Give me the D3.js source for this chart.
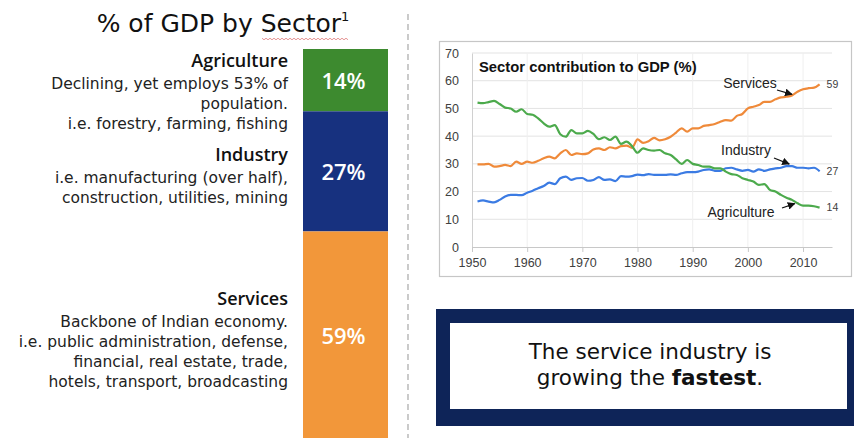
<!DOCTYPE html>
<html>
<head>
<meta charset="utf-8">
<script src="https://cdn.jsdelivr.net/npm/d3@7/dist/d3.min.js"></script>
<style>
  body { margin: 0; background: #fff; }
  svg { display: block; }
</style>
</head>
<body>
<script>
// ---- Stacked share bar (left panel) ----
const sectors = ["Agriculture", "Industry", "Services"];
const shares = [14, 27, 59];
const sectorColors = ["#3d8a2f", "#17317f", "#f2973a"];
const sectorNotes = [
  ["Declining, yet employs 53% of", "population.", "i.e. forestry, farming, fishing"],
  ["i.e. manufacturing (over half),", "construction, utilities, mining"],
  ["Backbone of Indian economy.", "i.e. public administration, defense,", "financial, real estate, trade,", "hotels, transport, broadcasting"]
];

// ---- Sector contribution to GDP (%), 1951-2013 ----
const years = [
  1951, 1952, 1953, 1954, 1955, 1956, 1957, 1958, 1959, 1960,
  1961, 1962, 1963, 1964, 1965, 1966, 1967, 1968, 1969, 1970,
  1971, 1972, 1973, 1974, 1975, 1976, 1977, 1978, 1979, 1980,
  1981, 1982, 1983, 1984, 1985, 1986, 1987, 1988, 1989, 1990,
  1991, 1992, 1993, 1994, 1995, 1996, 1997, 1998, 1999, 2000,
  2001, 2002, 2003, 2004, 2005, 2006, 2007, 2008, 2009, 2010,
  2011, 2012, 2013
];
const agriculture = [
  52.1, 51.9, 52.3, 52.7, 51.6, 50.3, 50.0, 48.8, 49.7, 48.0,
  47.7, 46.4, 44.6, 43.4, 44.0, 40.7, 39.8, 42.2, 41.0, 41.0,
  41.9, 40.8, 38.9, 39.6, 38.6, 39.8, 37.2, 38.0, 36.4, 34.0,
  35.6, 35.0, 34.8, 35.0, 33.8, 33.2, 31.6, 30.0, 31.4, 30.0,
  29.6, 29.0, 29.0, 28.4, 28.4, 27.2, 26.3, 26.0, 24.8, 24.2,
  23.6, 22.4, 22.7, 20.6, 20.0, 18.8, 17.8, 17.0, 15.8, 14.9,
  14.9, 14.7, 14.2
];
const industry = [
  16.4, 16.8, 16.4, 16.1, 17.0, 18.2, 18.8, 18.8, 18.7, 19.6,
  20.3, 21.2, 22.0, 23.2, 22.7, 24.8, 25.4, 24.2, 24.8, 24.9,
  23.9, 24.2, 25.2, 24.2, 24.4, 23.8, 25.6, 25.4, 25.6, 26.1,
  25.9, 26.3, 26.0, 26.0, 26.0, 26.2, 26.0, 26.6, 27.0, 27.0,
  27.2, 27.8, 28.0, 27.5, 27.5, 28.4, 28.6, 28.0, 27.5, 27.8,
  27.2, 28.0, 27.5, 28.0, 28.4, 28.6, 29.2, 29.2, 28.6, 28.6,
  28.4, 28.6, 27.3
];
const services = [
  29.8, 29.8, 30.0, 29.0, 29.2, 29.6, 29.2, 30.8, 30.0, 30.8,
  30.4, 31.1, 32.0, 32.6, 32.0, 33.8, 35.0, 33.2, 33.8, 33.5,
  33.8, 35.2, 35.6, 35.0, 36.0, 35.6, 36.4, 36.6, 35.8, 38.8,
  37.6, 38.2, 39.4, 38.5, 38.9, 39.8, 41.3, 42.8, 41.6, 42.8,
  42.8, 43.7, 44.0, 44.4, 45.2, 45.8, 45.6, 47.3, 48.0, 50.0,
  50.6, 51.2, 52.4, 52.4, 53.3, 54.0, 54.2, 54.7, 56.0, 56.9,
  57.3, 57.5, 58.7
];
const lineNames = ["Services", "Industry", "Agriculture"];
const lineColors = ["#ef8a3a", "#3b7be3", "#4caa4c"];
const yTicks = [0, 10, 20, 30, 40, 50, 60, 70];
const xTicks = [1950, 1960, 1970, 1980, 1990, 2000, 2010];

const W = 854, H = 438;
const bodyFont = "'DejaVu Sans', 'Open Sans', sans-serif";
const headFont = "'Open Sans', Lato, sans-serif";
const chartFont = "'Liberation Sans', Arial, sans-serif";

const svg = d3.select("body").append("svg")
  .attr("width", W).attr("height", H)
  .attr("viewBox", `0 0 ${W} ${H}`);

// ---------- Left panel ----------
const title = svg.append("text")
  .attr("x", 223).attr("y", 32)
  .attr("text-anchor", "middle")
  .attr("font-family", bodyFont)
  .attr("font-size", 25)
  .attr("fill", "#111");
title.append("tspan").text("% of GDP by Sector");
title.append("tspan").attr("font-size", 13).attr("dy", -11).text("1");

// spell-check squiggle under "Sector"
const squiggle = d3.range(262, 350, 2).map((x, i) => [x, 39 + (i % 2 ? 1 : -1) * 0.8]);
svg.append("path")
  .attr("d", d3.line()(squiggle))
  .attr("fill", "none").attr("stroke", "#e07a7a").attr("stroke-width", 0.8);

const barX0 = 303, barX1 = 388;
const shareY = d3.scaleLinear().domain([0, 100]).range([49, 494]);
let acc = 0;
const stack = shares.map((v, i) => {
  const s = { name: sectors[i], value: v, y0: acc, y1: acc + v, color: sectorColors[i] };
  acc += v;
  return s;
});

const bar = svg.append("g");
bar.selectAll("rect").data(stack).join("rect")
  .attr("x", barX0).attr("width", barX1 - barX0)
  .attr("y", d => shareY(d.y0))
  .attr("height", d => shareY(d.y1) - shareY(d.y0))
  .attr("fill", d => d.color);

bar.selectAll("text").data(stack).join("text")
  .attr("x", (barX0 + barX1) / 2 - 2)
  .attr("y", d => (shareY(d.y0) + Math.min(shareY(d.y1), H)) / 2 + 1)
  .attr("dy", "0.36em")
  .attr("text-anchor", "middle")
  .attr("font-family", headFont)
  .attr("font-size", 22)
  .attr("font-weight", 600)
  .attr("fill", "#fff")
  .text(d => d.value + "%");

const headBaselines = [67, 161, 305];
const textRight = 288;
sectors.forEach((name, i) => {
  const g = svg.append("g").attr("text-anchor", "end");
  g.append("text")
    .attr("x", textRight).attr("y", headBaselines[i])
    .attr("font-family", headFont)
    .attr("font-size", 18).attr("font-weight", 600).attr("fill", "#111")
    .text(name);
  sectorNotes[i].forEach((line, j) => {
    g.append("text")
      .attr("x", textRight).attr("y", headBaselines[i] + 22 + j * 20)
      .attr("font-family", bodyFont)
      .attr("font-size", 15.5).attr("fill", "#222")
      .text(line);
  });
});

// dashed divider
svg.append("line")
  .attr("x1", 408).attr("x2", 408).attr("y1", 14).attr("y2", H)
  .attr("stroke", "#a8a8a8").attr("stroke-width", 1.2)
  .attr("stroke-dasharray", "6,4");

// ---------- Line chart ----------
svg.append("rect")
  .attr("x", 439.5).attr("y", 41.5).attr("width", 412).attr("height", 235)
  .attr("fill", "#fff").attr("stroke", "#c6c6c6").attr("stroke-width", 1.2);

const x = d3.scaleLinear().domain([1950, 2015.25]).range([472, 832]);
const y = d3.scaleLinear().domain([0, 70]).range([247, 53]);

const chart = svg.append("g").attr("font-family", chartFont);

// gridlines
chart.append("g").selectAll("line").data(yTicks.slice(1)).join("line")
  .attr("x1", x.range()[0]).attr("x2", x.range()[1])
  .attr("y1", d => y(d)).attr("y2", d => y(d))
  .attr("stroke", "#e3e3e3").attr("stroke-width", 1);
chart.append("g").selectAll("line").data(xTicks.slice(1)).join("line")
  .attr("x1", d => x(d)).attr("x2", d => x(d))
  .attr("y1", y(0)).attr("y2", y(70))
  .attr("stroke", "#efefef").attr("stroke-width", 1);

// axes
const yAxis = chart.append("g")
  .attr("transform", `translate(${x.range()[0]},0)`)
  .call(d3.axisLeft(y).tickValues(yTicks).tickSize(0).tickPadding(13));
yAxis.select(".domain").attr("stroke", "#d0d0d0");
yAxis.selectAll("text").attr("font-family", chartFont).attr("font-size", 12.5).attr("fill", "#404040");

const xAxis = chart.append("g")
  .attr("transform", `translate(0,${y(0)})`)
  .call(d3.axisBottom(x).tickValues(xTicks).tickFormat(d3.format("d")).tickSize(5).tickSizeOuter(0).tickPadding(6));
xAxis.select(".domain").attr("stroke", "#c8c8c8");
xAxis.selectAll(".tick line").attr("stroke", "#c8c8c8");
xAxis.selectAll("text").attr("font-family", chartFont).attr("font-size", 12.5).attr("fill", "#404040");

chart.append("text")
  .attr("x", 479).attr("y", 72)
  .attr("font-size", 14.8).attr("font-weight", 700).attr("fill", "#111")
  .text("Sector contribution to GDP (%)");

// series
const seriesValues = [services, industry, agriculture];
const line = d3.line()
  .x((d, i) => x(years[i]))
  .y(d => y(d))
  .curve(d3.curveMonotoneX);

chart.append("g").selectAll("path").data(seriesValues).join("path")
  .attr("d", d => line(d))
  .attr("fill", "none")
  .attr("stroke", (d, i) => lineColors[i])
  .attr("stroke-width", 2.2)
  .attr("stroke-linejoin", "round");

// end-value labels
chart.append("g").selectAll("text").data(seriesValues).join("text")
  .attr("x", x(years[years.length - 1]) + 7)
  .attr("y", d => y(d[d.length - 1]))
  .attr("dy", "0.35em")
  .attr("font-size", 10.5).attr("fill", "#404040")
  .text(d => Math.round(d[d.length - 1]));

// arrow annotations
svg.append("defs").append("marker")
  .attr("id", "arrowhead")
  .attr("viewBox", "0 0 10 10").attr("refX", 9).attr("refY", 5)
  .attr("markerWidth", 6).attr("markerHeight", 6)
  .attr("orient", "auto-start-reverse")
  .append("path").attr("d", "M0,0 L10,5 L0,10 Z").attr("fill", "#111");

const notes = [
  { text: "Services", tx: 750, ty: 88, from: [777, 90], year: 2008, series: services, off: [0, -1] },
  { text: "Industry", tx: 746, ty: 155, from: [774, 158], year: 2007.5, series: industry, off: [0, -2] },
  { text: "Agriculture", tx: 741, ty: 217, from: [782, 208], year: 2008.5, series: agriculture, off: [0, 2] }
];
notes.forEach(n => {
  const idx = years.indexOf(Math.floor(n.year));
  const v = n.year % 1 ? (n.series[idx] + n.series[idx + 1]) / 2 : n.series[idx];
  chart.append("text")
    .attr("x", n.tx).attr("y", n.ty)
    .attr("text-anchor", "middle")
    .attr("font-size", 14).attr("fill", "#222")
    .text(n.text);
  chart.append("line")
    .attr("x1", n.from[0]).attr("y1", n.from[1])
    .attr("x2", x(n.year) + n.off[0]).attr("y2", y(v) + n.off[1])
    .attr("stroke", "#111").attr("stroke-width", 1.3)
    .attr("marker-end", "url(#arrowhead)");
});

// ---------- Callout box ----------
svg.append("rect")
  .attr("x", 436).attr("y", 309).attr("width", W - 436).attr("height", 117)
  .attr("fill", "#0e2458");
svg.append("rect")
  .attr("x", 450).attr("y", 323).attr("width", 397).attr("height", 86)
  .attr("fill", "#fff");
const callout = svg.append("g")
  .attr("font-family", bodyFont).attr("font-size", 21.5).attr("fill", "#111")
  .attr("text-anchor", "middle");
callout.append("text").attr("x", 650).attr("y", 359).text("The service industry is");
const l2 = callout.append("text").attr("x", 650).attr("y", 385);
l2.append("tspan").text("growing the ");
l2.append("tspan").attr("font-weight", 700).text("fastest");
l2.append("tspan").text(".");
</script>
</body>
</html>
